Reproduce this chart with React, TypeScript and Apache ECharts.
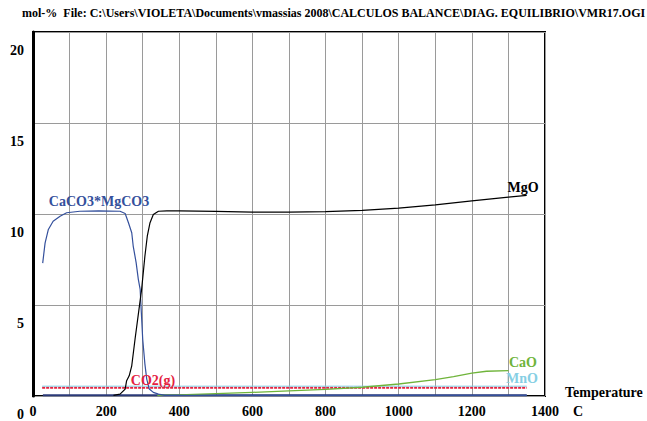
import React, { useRef, useEffect } from 'react';
import * as echarts from 'echarts';

const FONT = '"Liberation Serif", "Times New Roman", serif';

const titleText = 'mol-%  File: C:\\Users\\VIOLETA\\Documents\\vmassias 2008\\CALCULOS BALANCE\\DIAG. EQUILIBRIO\\VMR17.OGI';

const xTicks = [0, 200, 400, 600, 800, 1000, 1200, 1400];
const yTicks = [0, 5, 10, 15, 20];

// CaCO3*MgCO3
const dolT = [26.5, 33, 42, 55, 74, 92, 128, 180, 238, 252, 261, 270, 274, 282, 288, 293, 300, 306, 311, 318, 329, 343, 360, 1350];
const dolV = [7.3, 8.4, 9.15, 9.6, 9.88, 10.07, 10.15, 10.17, 10.15, 10.03, 9.52, 8.97, 8.24, 7.33, 6.41, 5.86, 3.12, 1.75, 0.93, 0.38, 0.2, 0.1, 0.03, 0.03];

// MgO
const mgoT = [220, 238, 252, 256, 263, 270, 279, 297, 306, 312.5, 320, 329, 343, 366, 400, 500, 600, 700, 800, 900, 1000, 1100, 1200, 1300, 1350];
const mgoV = [0.03, 0.1, 0.38, 0.84, 1.11, 1.66, 3.12, 5.86, 7.69, 8.78, 9.52, 9.97, 10.15, 10.17, 10.17, 10.14, 10.1, 10.1, 10.13, 10.2, 10.32, 10.5, 10.72, 10.93, 11.02];

// CaO
const caoT = [340, 400, 500, 600, 700, 800, 900, 1000, 1100, 1150, 1200, 1240, 1300];
const caoV = [0.03, 0.06, 0.13, 0.2, 0.28, 0.36, 0.48, 0.66, 0.9, 1.06, 1.26, 1.36, 1.39];

// CO2(g)
const co2T = [25, 1350];
const co2V = [0.45, 0.45];

// MnO
const mnoT = [25, 1350];
const mnoV = [0.54, 0.54];

// other species at ~0
const zeroT = [27, 1350];
const zeroV = [0.04, 0.04];

const pairs = (t: number[], v: number[]) => t.map((x, i) => [x, v[i]]);

export default function App() {
  const ref = useRef<HTMLDivElement>(null);
  useEffect(() => {
    const chart = echarts.init(ref.current!, null, { renderer: 'svg' });
    const lbl = (text: string, x: number, y: number, color: string) => ({
      type: 'text', x, y,
      style: { text, fill: color, font: `bold 14px ${FONT}`, align: 'center', verticalAlign: 'middle' },
      z: 100,
    });
    const line = (name: string, t: number[], v: number[], color: string, width: number, type: any = 'solid') => ({
      name, type: 'line', data: pairs(t, v), showSymbol: false, symbol: 'none',
      lineStyle: { color, width, type }, itemStyle: { color }, z: 5,
    });
    chart.setOption({
      animation: false,
      backgroundColor: '#fff',
      grid: { left: 33, right: 102, top: 32, bottom: 24, show: true, borderColor: '#000', borderWidth: 2, backgroundColor: '#fff' },
      xAxis: {
        type: 'value', min: 0, max: 1400, interval: 100,
        axisLine: { show: false }, axisTick: { show: false },
        splitLine: { show: true, lineStyle: { color: '#9a9a9a', width: 1 } },
        axisLabel: {
          margin: 8, color: '#000', fontFamily: FONT, fontWeight: 'bold', fontSize: 14,
          formatter: (v: number) => (xTicks.includes(v) ? String(v) : ''),
        },
      },
      yAxis: {
        type: 'value', min: 0, max: 20, interval: 5,
        axisLine: { show: true, lineStyle: { color: '#000', width: 3 } }, axisTick: { show: false },
        splitLine: { show: true, lineStyle: { color: '#9a9a9a', width: 1 } },
        axisLabel: {
          margin: 9, color: '#000', fontFamily: FONT, fontWeight: 'bold', fontSize: 14,
          verticalAlign: 'top', padding: [11, 0, 0, 0],
          formatter: (v: number) => (yTicks.includes(v) ? String(v) : ''),
        },
      },
      series: [
        line('other', zeroT, zeroV, '#2b3a78', 2),
        line('CO2(g)', co2T, co2V, '#e4223f', 2, [3, 1]),
        line('MnO', mnoT, mnoV, '#86cfe4', 1),
        line('CaO', caoT, caoV, '#6fb43a', 1.3),
        line('CaCO3*MgCO3', dolT, dolV, '#34509c', 1.2),
        line('MgO', mgoT, mgoV, '#000000', 1.2),
      ],
      graphic: [
        { type: 'text', x: 22, y: 13, style: { text: titleText, fill: '#000', font: `bold 12px ${FONT}`, verticalAlign: 'middle' } },
        lbl('MgO', 523, 187, '#000'),
        lbl('CaCO3*MgCO3', 99, 201, '#34509c'),
        lbl('CO2(g)', 153, 380, '#e4223f'),
        lbl('CaO', 523, 362, '#6fb43a'),
        lbl('MnO', 522, 378, '#86cfe4'),
        { type: 'text', x: 565, y: 392, style: { text: 'Temperature', fill: '#000', font: `bold 14px ${FONT}`, verticalAlign: 'middle' } },
        { type: 'text', x: 578, y: 411, style: { text: 'C', fill: '#000', font: `bold 14px ${FONT}`, align: 'center', verticalAlign: 'middle' } },
      ],
    });
    return () => chart.dispose();
  }, []);
  return <div ref={ref} style={{ position: 'absolute', left: 0, top: 0, width: 647, height: 421 }} />;
}
